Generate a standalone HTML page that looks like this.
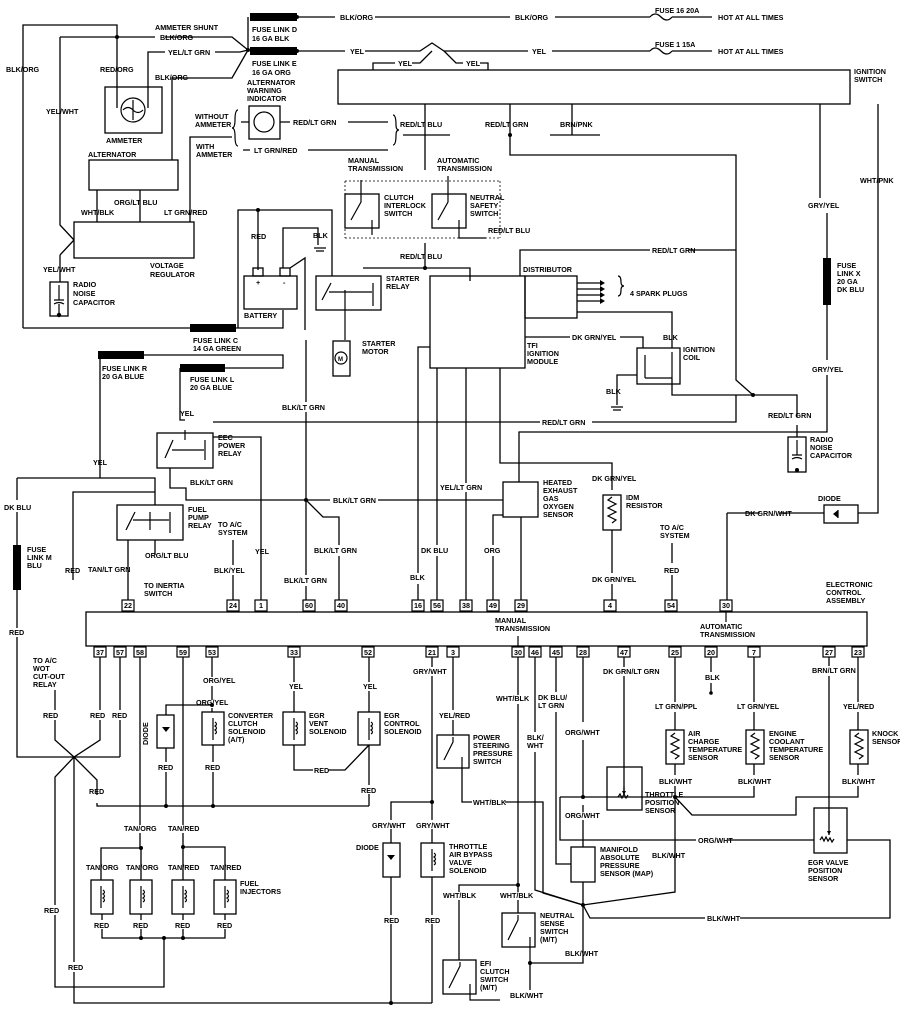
<!DOCTYPE html>
<html><head><meta charset="utf-8"><style>
html,body{margin:0;padding:0;background:#fff}
svg{display:block}
text{font-family:"Liberation Sans",sans-serif;font-size:7.2px;fill:#000;font-weight:bold}
.l{fill:none;stroke:#000;stroke-width:1.3}
.b{fill:none;stroke:#000;stroke-width:1.2}
.d{fill:none;stroke:#000;stroke-width:0.8;stroke-dasharray:2 2}
.f{fill:#000}
</style></head><body>
<svg width="900" height="1012" viewBox="0 0 900 1012" xmlns="http://www.w3.org/2000/svg">
<!-- TOP FEEDS -->
<rect x="250" y="13" width="47" height="8" class="f"/>
<rect x="250" y="47" width="47" height="8" class="f"/>
<path class="l" d="M297 17H335M375 17H510M555 17H650M672 17H712M248 17V50M297 51H345M365 51H420L432 43L444 51H528M552 51H650M672 51H712"/>
<circle cx="297" cy="17" r="2" class="f"/><circle cx="297" cy="51" r="2" class="f"/><circle cx="248" cy="50" r="2" class="f"/>
<text x="340" y="20">BLK/ORG</text><text x="515" y="20">BLK/ORG</text>
<text x="655" y="13">FUSE 16 20A</text><text x="718" y="20">HOT AT ALL TIMES</text>
<text x="350" y="54">YEL</text><text x="532" y="54">YEL</text>
<text x="655" y="47">FUSE 1 15A</text><text x="718" y="54">HOT AT ALL TIMES</text>
<path class="l" d="M650 17q5-6 11 0t11 0M650 51q5-6 11 0t11 0"/>
<text x="252" y="32">FUSE LINK D</text><text x="252" y="41">16 GA BLK</text>
<text x="252" y="66">FUSE LINK E</text><text x="252" y="75">16 GA ORG</text>
<text x="247" y="85">ALTERNATOR</text><text x="247" y="93">WARNING</text><text x="247" y="101">INDICATOR</text>
<!-- ignition switch -->
<rect x="338" y="70" width="512" height="34" class="l"/>
<text x="854" y="74">IGNITION</text><text x="854" y="82">SWITCH</text>
<path class="l" d="M373 70V63H395M412 63H420L432 51M444 51L456 63H463M480 63H488V70"/>
<text x="398" y="66">YEL</text><text x="466" y="66">YEL</text>
<!-- left alt section -->
<path class="l" d="M23 328V25H117V108M60 37H155M165 37H232L248 50M60 37V225L74 240M60 255L74 240M60 255V282M148 108V52H165M215 52H240L248 50M172 160V78H232L248 50"/>
<circle cx="117" cy="37" r="2" class="f"/>
<text x="155" y="30">AMMETER SHUNT</text><text x="160" y="40">BLK/ORG</text>
<text x="168" y="55">YEL/LT GRN</text><text x="155" y="80">BLK/ORG</text>
<text x="6" y="72">BLK/ORG</text><text x="100" y="72">RED/ORG</text><text x="46" y="114">YEL/WHT</text>
<rect x="105" y="87" width="57" height="46" class="l"/>
<circle cx="133" cy="110" r="12" class="b"/><path class="b" d="M133 100V120M123 110q5-5 10 0t10 0"/>
<text x="106" y="143">AMMETER</text><text x="88" y="157">ALTERNATOR</text>
<rect x="89" y="160" width="89" height="30" class="l"/>
<path class="l" d="M97 190V222M140 190V222M190 222V137H232"/>
<text x="81" y="215">WHT/BLK</text><text x="114" y="205">ORG/LT BLU</text><text x="164" y="215">LT GRN/RED</text>
<rect x="74" y="222" width="120" height="36" class="l"/>
<text x="150" y="268">VOLTAGE</text><text x="150" y="277">REGULATOR</text>
<text x="43" y="272">YEL/WHT</text>
<rect x="50" y="282" width="18" height="34" class="l"/><path class="b" d="M59 285V300M54 300H64M54 304q5-3 10 0M59 304V316"/>
<circle cx="59" cy="315" r="2.2" class="f"/>
<text x="73" y="287">RADIO</text><text x="73" y="296">NOISE</text><text x="73" y="305">CAPACITOR</text>
<!-- indicator -->
<rect x="249" y="106" width="31" height="33" class="l"/><circle cx="264" cy="122" r="10" class="b"/>
<path class="l" d="M241 122H249M280 122H290M348 122H388M243 150H250M308 150H388"/>
<text x="293" y="125">RED/LT GRN</text><text x="254" y="153">LT GRN/RED</text>
<text x="195" y="119">WITHOUT</text><text x="195" y="127">AMMETER</text><text x="196" y="149">WITH</text><text x="196" y="157">AMMETER</text>
<path class="b" d="M238 110q-3 0-3 10q0 8-3 8q3 0 3 8q0 10 3 10M393 115q3 0 3 10q0 5 3 5q-3 0-3 5q0 10-3 10"/>
<text x="400" y="127">RED/LT BLU</text><text x="485" y="127">RED/LT GRN</text><text x="560" y="127">BRN/PNK</text>
<path class="l" d="M425 104V170M403 135H450M510 104V155H736V380L753 395M572 104V135M550 135H600"/>
<circle cx="510" cy="135" r="2" class="f"/>
<!-- trans switches -->
<text x="348" y="163">MANUAL</text><text x="348" y="171">TRANSMISSION</text>
<text x="437" y="163">AUTOMATIC</text><text x="437" y="171">TRANSMISSION</text>
<path class="d" d="M345 181H500M345 238H500M345 181V238M500 181V238"/>
<rect x="345" y="194" width="34" height="34" class="l"/><rect x="432" y="194" width="34" height="34" class="l"/>
<path class="b" d="M361 180V202L351 220M372 220V235M448 176V202L438 220M459 220V238H486"/>
<text x="384" y="200">CLUTCH</text><text x="384" y="208">INTERLOCK</text><text x="384" y="216">SWITCH</text>
<text x="470" y="200">NEUTRAL</text><text x="470" y="208">SAFETY</text><text x="470" y="216">SWITCH</text>
<text x="488" y="233">RED/LT BLU</text>
<text x="400" y="259">RED/LT BLU</text>
<path class="l" d="M425 243V268M363 268H470V281"/><circle cx="425" cy="268" r="2" class="f"/>
<!-- battery & starter -->
<path class="l" d="M238 328V210H332V276M258 210V270M283 268V228H318V245M290 268L305 258V330"/>
<circle cx="258" cy="210" r="2" class="f"/>
<text x="251" y="239">RED</text><text x="313" y="238">BLK</text>
<path class="b" d="M314 248H326M316 251H324"/>
<rect x="244" y="276" width="53" height="33" class="l"/>
<rect x="253" y="268" width="10" height="8" class="l"/><rect x="280" y="268" width="10" height="8" class="l"/>
<text x="256" y="285">+</text><text x="283" y="285">-</text>
<text x="244" y="318">BATTERY</text>
<rect x="316" y="276" width="65" height="34" class="l"/>
<path class="b" d="M331 283L322 300M345 290V340M373 283V306M329 292H372"/>
<text x="386" y="281">STARTER</text><text x="386" y="289">RELAY</text>
<rect x="333" y="341" width="17" height="35" class="l"/><circle cx="341" cy="358" r="6" class="b"/><text x="338" y="361" style="font-size:6px">M</text>
<text x="362" y="346">STARTER</text><text x="362" y="354">MOTOR</text>
<!-- fuse links C R L -->
<rect x="190" y="324" width="46" height="8" class="f"/>
<path class="l" d="M23 328H190M236 328H283V310"/>
<text x="193" y="343">FUSE LINK C</text><text x="193" y="351">14 GA GREEN</text>
<rect x="98" y="351" width="46" height="8" class="f"/><rect x="180" y="364" width="45" height="8" class="f"/>
<path class="l" d="M144 355H283V368H225M100 355V478M180 368V420H185"/>
<text x="102" y="371">FUSE LINK R</text><text x="102" y="379">20 GA BLUE</text>
<text x="190" y="382">FUSE LINK L</text><text x="190" y="390">20 GA BLUE</text>
<text x="180" y="416">YEL</text>
<!-- TFI / distributor -->
<rect x="430" y="276" width="95" height="92" class="l"/>
<rect x="525" y="276" width="52" height="42" class="l"/>
<text x="523" y="272">DISTRIBUTOR</text>
<path class="l" d="M577 283H600M577 289H600M577 295H600M577 301H600M577 312H672V348M520 276V250H650M688 250H736"/>
<path class="f" d="M600 280l5 3-5 3zM600 286l5 3-5 3zM600 292l5 3-5 3zM600 298l5 3-5 3z"/>
<path class="b" d="M618 276q3 0 3 6q0 4 3 4q-3 0-3 4q0 6-3 6"/>
<text x="630" y="296">4 SPARK PLUGS</text>
<text x="652" y="253">RED/LT GRN</text>
<text x="527" y="348">TFI</text><text x="527" y="356">IGNITION</text><text x="527" y="364">MODULE</text>
<path class="l" d="M525 337H570M620 337H643V348"/>
<text x="572" y="340">DK GRN/YEL</text><text x="663" y="340">BLK</text>
<rect x="637" y="348" width="43" height="36" class="l"/>
<path class="b" d="M645 355V378M672 352V378M645 378H672"/>
<text x="683" y="352">IGNITION</text><text x="683" y="360">COIL</text>
<path class="l" d="M637 375H617V405M672 378V395H797V417M797 425V437"/>
<path class="b" d="M611 407H623M613 410H621"/>
<circle cx="753" cy="395" r="2" class="f"/>
<text x="606" y="394">BLK</text><text x="768" y="418">RED/LT GRN</text>
<rect x="788" y="437" width="18" height="35" class="l"/><path class="b" d="M797 440V455M792 455H802M792 459q5-3 10 0"/><circle cx="797" cy="470" r="2" class="f"/>
<text x="810" y="442">RADIO</text><text x="810" y="450">NOISE</text><text x="810" y="458">CAPACITOR</text>
<!-- fuse X -->
<path class="l" d="M820 104V198M827 213V258M827 305V360M827 375V432H519V482M878 104V513H858M824 513H780M727 513H760"/>
<text x="808" y="208">GRY/YEL</text><text x="860" y="183">WHT/PNK</text><text x="812" y="372">GRY/YEL</text>
<rect x="823" y="258" width="8" height="47" class="f"/>
<text x="837" y="268">FUSE</text><text x="837" y="276">LINK X</text><text x="837" y="284">20 GA</text><text x="837" y="292">DK BLU</text>
<rect x="824" y="505" width="34" height="18" class="l"/><path class="f" d="M838 510v8l-5-4z"/><path class="b" d="M838 510V518"/>
<text x="818" y="501">DIODE</text><text x="745" y="516">DK GRN/WHT</text>
<path class="l" d="M727 513V600"/>
<!-- EEC power relay -->
<path class="l" d="M213 422H540M592 422H736V395"/>
<text x="542" y="425">RED/LT GRN</text>
<rect x="157" y="433" width="56" height="35" class="l"/>
<path class="b" d="M173 440L165 458M185 430V440M205 440V460M172 450H204"/>
<text x="218" y="440">EEC</text><text x="218" y="448">POWER</text><text x="218" y="456">RELAY</text>
<path class="l" d="M213 437H261V600M170 468V488H186V500H330M378 500H503"/>
<circle cx="306" cy="500" r="2" class="f"/>
<text x="190" y="485">BLK/LT GRN</text><text x="333" y="503">BLK/LT GRN</text>
<path class="l" d="M306 340V402M306 412V575M306 586V600M306 500L323 517H339V545M339 556V600"/>
<text x="282" y="410">BLK/LT GRN</text><text x="314" y="553">BLK/LT GRN</text><text x="284" y="583">BLK/LT GRN</text>
<!-- TFI outputs -->
<path class="l" d="M430 347H418V573M418 584V600M437 368V545M437 556V600M466 368V483M466 492V600M500 368V463H612V490M612 530V573M612 584V600M503 515H493V545M493 556V600M521 517V600"/>
<text x="410" y="580">BLK</text><text x="421" y="553">DK BLU</text><text x="440" y="490">YEL/LT GRN</text><text x="484" y="553">ORG</text>
<rect x="503" y="482" width="35" height="35" class="l"/>
<text x="543" y="485">HEATED</text><text x="543" y="493">EXHAUST</text><text x="543" y="501">GAS</text><text x="543" y="509">OXYGEN</text><text x="543" y="517">SENSOR</text>
<text x="592" y="481">DK GRN/YEL</text>
<rect x="603" y="495" width="18" height="35" class="l"/><path class="b" d="M612 497l-4 3 8 4-8 4 8 4-8 4 8 4-4 3"/>
<text x="626" y="500">IDM</text><text x="626" y="508">RESISTOR</text>
<text x="592" y="582">DK GRN/YEL</text>
<text x="660" y="530">TO A/C</text><text x="660" y="538">SYSTEM</text>
<path class="l" d="M672 543V563M672 575V600"/><text x="664" y="573">RED</text>
<!-- fuel pump relay -->
<path class="l" d="M100 478H155V505M73 580V492H155"/>
<text x="93" y="465">YEL</text>
<rect x="117" y="505" width="66" height="35" class="l"/>
<path class="b" d="M135 512L126 530M150 512V530M170 512V533M133 520H169"/>
<text x="188" y="512">FUEL</text><text x="188" y="520">PUMP</text><text x="188" y="528">RELAY</text>
<text x="218" y="527">TO A/C</text><text x="218" y="535">SYSTEM</text>
<path class="l" d="M128 540V600M155 540V555M233 540V565M233 575V600"/>
<text x="145" y="558">ORG/LT BLU</text><text x="88" y="572">TAN/LT GRN</text><text x="144" y="588">TO INERTIA</text><text x="144" y="596">SWITCH</text>
<text x="214" y="573">BLK/YEL</text><text x="255" y="554">YEL</text><text x="65" y="573">RED</text>
<!-- fuse M -->
<path class="l" d="M17 478H100M17 478V500M17 512V545M17 590V628M17 637V757H120"/>
<rect x="13" y="545" width="8" height="45" class="f"/>
<text x="4" y="510">DK BLU</text><text x="27" y="552">FUSE</text><text x="27" y="560">LINK M</text><text x="27" y="568">BLU</text><text x="9" y="635">RED</text>
<!-- ECA -->
<rect x="86" y="612" width="781" height="34" class="l"/>
<text x="826" y="587">ELECTRONIC</text><text x="826" y="595">CONTROL</text><text x="826" y="603">ASSEMBLY</text>
<text x="495" y="623">MANUAL</text><text x="495" y="631">TRANSMISSION</text>
<text x="700" y="629">AUTOMATIC</text><text x="700" y="637">TRANSMISSION</text>
<path class="b" d="M518 636V646M726 612V622"/>
<g style="font-size:6px">
<g class="pt">
<rect x="122" y="600" width="12" height="11" class="b"/><text x="124" y="608">22</text>
<rect x="227" y="600" width="12" height="11" class="b"/><text x="229" y="608">24</text>
<rect x="255" y="600" width="12" height="11" class="b"/><text x="259" y="608">1</text>
<rect x="303" y="600" width="12" height="11" class="b"/><text x="305" y="608">60</text>
<rect x="335" y="600" width="12" height="11" class="b"/><text x="337" y="608">40</text>
<rect x="412" y="600" width="12" height="11" class="b"/><text x="414" y="608">16</text>
<rect x="431" y="600" width="12" height="11" class="b"/><text x="433" y="608">56</text>
<rect x="460" y="600" width="12" height="11" class="b"/><text x="462" y="608">38</text>
<rect x="487" y="600" width="12" height="11" class="b"/><text x="489" y="608">49</text>
<rect x="515" y="600" width="12" height="11" class="b"/><text x="517" y="608">29</text>
<rect x="604" y="600" width="12" height="11" class="b"/><text x="608" y="608">4</text>
<rect x="665" y="600" width="12" height="11" class="b"/><text x="667" y="608">54</text>
<rect x="720" y="600" width="12" height="11" class="b"/><text x="722" y="608">30</text>
<rect x="94" y="647" width="12" height="10" class="b"/><text x="96" y="655">37</text>
<rect x="114" y="647" width="12" height="10" class="b"/><text x="116" y="655">57</text>
<rect x="134" y="647" width="12" height="10" class="b"/><text x="136" y="655">58</text>
<rect x="177" y="647" width="12" height="10" class="b"/><text x="179" y="655">59</text>
<rect x="206" y="647" width="12" height="10" class="b"/><text x="208" y="655">53</text>
<rect x="288" y="647" width="12" height="10" class="b"/><text x="290" y="655">33</text>
<rect x="362" y="647" width="12" height="10" class="b"/><text x="364" y="655">52</text>
<rect x="426" y="647" width="12" height="10" class="b"/><text x="428" y="655">21</text>
<rect x="447" y="647" width="12" height="10" class="b"/><text x="451" y="655">3</text>
<rect x="512" y="647" width="12" height="10" class="b"/><text x="514" y="655">30</text>
<rect x="529" y="647" width="12" height="10" class="b"/><text x="531" y="655">46</text>
<rect x="550" y="647" width="12" height="10" class="b"/><text x="552" y="655">45</text>
<rect x="577" y="647" width="12" height="10" class="b"/><text x="579" y="655">28</text>
<rect x="618" y="647" width="12" height="10" class="b"/><text x="620" y="655">47</text>
<rect x="669" y="647" width="12" height="10" class="b"/><text x="671" y="655">25</text>
<rect x="705" y="647" width="12" height="10" class="b"/><text x="707" y="655">20</text>
<rect x="748" y="647" width="12" height="10" class="b"/><text x="752" y="655">7</text>
<rect x="823" y="647" width="12" height="10" class="b"/><text x="825" y="655">27</text>
<rect x="852" y="647" width="12" height="10" class="b"/><text x="854" y="655">23</text>
</g></g>
<!-- bottom left -->
<text x="33" y="663">TO A/C</text><text x="33" y="671">WOT</text><text x="33" y="679">CUT-OUT</text><text x="33" y="687">RELAY</text>
<path class="l" d="M100 657V710M100 720V740L74 757L55 740V720M55 710V690M120 657V710M120 720V757M74 757L97 780V795M97 803V806H369M74 757L55 777V905M55 915V987H164V938M74 757V962M74 972V1003H432"/>
<text x="43" y="718">RED</text><text x="90" y="718">RED</text><text x="112" y="718">RED</text><text x="89" y="794">RED</text><text x="44" y="913">RED</text><text x="68" y="970">RED</text>
<path class="l" d="M140 657V825M140 833V848H101V880M141 848V880M183 657V825M183 833V847H225V880M183 847V880M212 657V677M212 686V700M212 708V712M212 705H166V715"/>
<circle cx="212" cy="705" r="2" class="f"/><circle cx="141" cy="848" r="2" class="f"/><circle cx="183" cy="847" r="2" class="f"/>
<text x="203" y="683">ORG/YEL</text><text x="196" y="705">ORG/YEL</text>
<text x="124" y="831">TAN/ORG</text><text x="168" y="831">TAN/RED</text>
<text x="86" y="870">TAN/ORG</text><text x="126" y="870">TAN/ORG</text><text x="168" y="870">TAN/RED</text><text x="210" y="870">TAN/RED</text>
<g class="inj">
<rect x="91" y="880" width="22" height="34" class="l"/><rect x="130" y="880" width="22" height="34" class="l"/><rect x="172" y="880" width="22" height="34" class="l"/><rect x="214" y="880" width="22" height="34" class="l"/>
<path class="b" d="M101 886V908M141 886V908M183 886V908M225 886V908M103 890q3 2 0 4q3 2 0 4q3 2 0 4M143 890q3 2 0 4q3 2 0 4q3 2 0 4M185 890q3 2 0 4q3 2 0 4q3 2 0 4M227 890q3 2 0 4q3 2 0 4q3 2 0 4"/>
</g>
<text x="240" y="886">FUEL</text><text x="240" y="894">INJECTORS</text>
<path class="l" d="M102 914V920M102 929V938H225V929M141 914V920M141 929V938M183 914V920M183 929V938M225 914V920"/>
<text x="94" y="928">RED</text><text x="133" y="928">RED</text><text x="175" y="928">RED</text><text x="217" y="928">RED</text>
<circle cx="141" cy="938" r="2" class="f"/><circle cx="164" cy="938" r="2" class="f"/><circle cx="183" cy="938" r="2" class="f"/>
<rect x="157" y="715" width="17" height="33" class="l"/><path class="f" d="M162 727h8l-4 5z"/>
<text x="148" y="745" transform="rotate(-90 148 745)">DIODE</text>
<path class="l" d="M166 748V762M166 772V806M213 745V762M213 772V806"/>
<text x="158" y="770">RED</text><text x="205" y="770">RED</text>
<circle cx="166" cy="806" r="2" class="f"/><circle cx="213" cy="806" r="2" class="f"/>
<rect x="202" y="712" width="22" height="33" class="l"/><path class="b" d="M213 718V740M215 722q3 2 0 4q3 2 0 4q3 2 0 4"/>
<text x="228" y="718">CONVERTER</text><text x="228" y="726">CLUTCH</text><text x="228" y="734">SOLENOID</text><text x="228" y="742">(A/T)</text>
<path class="l" d="M294 657V682M294 691V712M294 745V770H313M328 770H345L369 745M369 657V682M369 691V712M369 745V785M369 794V806"/>
<text x="289" y="689">YEL</text><text x="363" y="689">YEL</text><text x="314" y="773">RED</text><text x="361" y="793">RED</text>
<rect x="283" y="712" width="22" height="33" class="l"/><path class="b" d="M294 718V740M296 722q3 2 0 4q3 2 0 4q3 2 0 4"/>
<rect x="358" y="712" width="22" height="33" class="l"/><path class="b" d="M369 718V740M371 722q3 2 0 4q3 2 0 4q3 2 0 4"/>
<text x="309" y="718">EGR</text><text x="309" y="726">VENT</text><text x="309" y="734">SOLENOID</text>
<text x="384" y="718">EGR</text><text x="384" y="726">CONTROL</text><text x="384" y="734">SOLENOID</text>
<!-- middle bottom -->
<path class="l" d="M432 657V667M432 676V820M432 829V843M432 877V915M432 924V1003M432 802H391V820M391 829V843M391 877V915M391 924V1003"/>
<circle cx="432" cy="802" r="2" class="f"/><circle cx="391" cy="1003" r="2" class="f"/>
<text x="413" y="674">GRY/WHT</text><text x="372" y="828">GRY/WHT</text><text x="416" y="828">GRY/WHT</text>
<text x="356" y="850">DIODE</text><text x="384" y="923">RED</text><text x="425" y="923">RED</text>
<rect x="383" y="843" width="17" height="34" class="l"/><path class="f" d="M387 855h8l-4 5z"/>
<rect x="421" y="843" width="23" height="34" class="l"/><path class="b" d="M432 849V871M434 853q3 2 0 4q3 2 0 4q3 2 0 4"/>
<text x="449" y="849">THROTTLE</text><text x="449" y="857">AIR BYPASS</text><text x="449" y="865">VALVE</text><text x="449" y="873">SOLENOID</text>
<path class="l" d="M453 657V710M453 720V735"/><text x="439" y="718">YEL/RED</text>
<rect x="437" y="735" width="32" height="33" class="l"/><path class="b" d="M453 737V742L444 760M462 757V768"/>
<text x="473" y="740">POWER</text><text x="473" y="748">STEERING</text><text x="473" y="756">PRESSURE</text><text x="473" y="764">SWITCH</text>
<path class="l" d="M462 768V802H472M505 802H543V893L583 905"/>
<text x="473" y="805">WHT/BLK</text>
<path class="l" d="M518 657V695M518 704V885H459V892M459 900V960M518 885V892M518 900V913"/>
<circle cx="518" cy="885" r="2" class="f"/>
<text x="496" y="701">WHT/BLK</text><text x="443" y="898">WHT/BLK</text><text x="500" y="898">WHT/BLK</text>
<path class="l" d="M535 657V732M535 752V890L583 905M556 657V692M556 712V864H571M583 657V722M583 740V797M583 805V812M583 820V847M560 797H672M560 797V840H696M728 840H814M847 840H890V918H740M705 918H590L583 905"/>
<circle cx="583" cy="797" r="2" class="f"/>
<text x="527" y="740">BLK/</text><text x="527" y="748">WHT</text>
<text x="538" y="700">DK BLU/</text><text x="538" y="708">LT GRN</text>
<text x="565" y="735">ORG/WHT</text><text x="565" y="818">ORG/WHT</text>
<text x="698" y="843">ORG/WHT</text><text x="707" y="921">BLK/WHT</text>
<rect x="502" y="913" width="33" height="34" class="l"/><path class="b" d="M518 915V920L508 940M530 937V963"/>
<text x="540" y="918">NEUTRAL</text><text x="540" y="926">SENSE</text><text x="540" y="934">SWITCH</text><text x="540" y="942">(M/T)</text>
<rect x="443" y="960" width="33" height="34" class="l"/><path class="b" d="M460 962V966L449 988M470 984V994V1000H500"/>
<text x="480" y="966">EFI</text><text x="480" y="974">CLUTCH</text><text x="480" y="982">SWITCH</text><text x="480" y="990">(M/T)</text>
<path class="l" d="M583 882V905L583 963H530M530 963V990"/>
<circle cx="530" cy="963" r="2" class="f"/><circle cx="583" cy="905" r="2" class="f"/>
<text x="565" y="956">BLK/WHT</text><text x="510" y="998">BLK/WHT</text>
<rect x="571" y="847" width="24" height="35" class="l"/>
<text x="600" y="852">MANIFOLD</text><text x="600" y="860">ABSOLUTE</text><text x="600" y="868">PRESSURE</text><text x="600" y="876">SENSOR (MAP)</text>
<path class="l" d="M624 657V667M624 676V795"/>
<text x="603" y="674">DK GRN/LT GRN</text>
<rect x="607" y="767" width="35" height="43" class="l"/><path class="b" d="M624 787V795M618 797l2-3 2 4 2-4 2 4 2-3"/><path class="f" d="M622 791h4l-2 4z"/>
<text x="645" y="797">THROTTLE</text><text x="645" y="805">POSITION</text><text x="645" y="813">SENSOR</text>
<path class="l" d="M675 657V702M675 712V730M675 764V775M675 786V892L583 905"/>
<text x="655" y="709">LT GRN/PPL</text><text x="659" y="784">BLK/WHT</text><text x="652" y="858">BLK/WHT</text>
<circle cx="675" cy="797" r="2" class="f"/>
<rect x="666" y="730" width="18" height="34" class="l"/><path class="b" d="M675 733l-4 3 8 4-8 4 8 4-8 4 8 4-4 3"/>
<text x="688" y="736">AIR</text><text x="688" y="744">CHARGE</text><text x="688" y="752">TEMPERATURE</text><text x="688" y="760">SENSOR</text>
<path class="l" d="M711 657V672M711 683V693"/><text x="705" y="680">BLK</text><circle cx="711" cy="693" r="1.8" class="f"/>
<path class="l" d="M754 657V702M754 712V730M754 764V775M754 786V797H675L692 815H796V797H858V786M858 775V764M858 657V702M858 712V730"/>
<text x="737" y="709">LT GRN/YEL</text><text x="738" y="784">BLK/WHT</text><text x="843" y="709">YEL/RED</text><text x="842" y="784">BLK/WHT</text>
<rect x="746" y="730" width="18" height="34" class="l"/><path class="b" d="M755 733l-4 3 8 4-8 4 8 4-8 4 8 4-4 3"/>
<rect x="850" y="730" width="18" height="34" class="l"/><path class="b" d="M859 733l-4 3 8 4-8 4 8 4-8 4 8 4-4 3"/>
<text x="769" y="736">ENGINE</text><text x="769" y="744">COOLANT</text><text x="769" y="752">TEMPERATURE</text><text x="769" y="760">SENSOR</text>
<text x="872" y="736">KNOCK</text><text x="872" y="744">SENSOR</text>
<path class="l" d="M829 657V666M829 676V835"/><text x="812" y="673">BRN/LT GRN</text>
<rect x="814" y="808" width="33" height="45" class="l"/><path class="b" d="M820 840l2-3 2 4 2-4 2 4 2-3 2 4 2-3"/><path class="f" d="M827 831h4l-2 4z"/>
<text x="808" y="865">EGR VALVE</text><text x="808" y="873">POSITION</text><text x="808" y="881">SENSOR</text>
</svg>
</body></html>
